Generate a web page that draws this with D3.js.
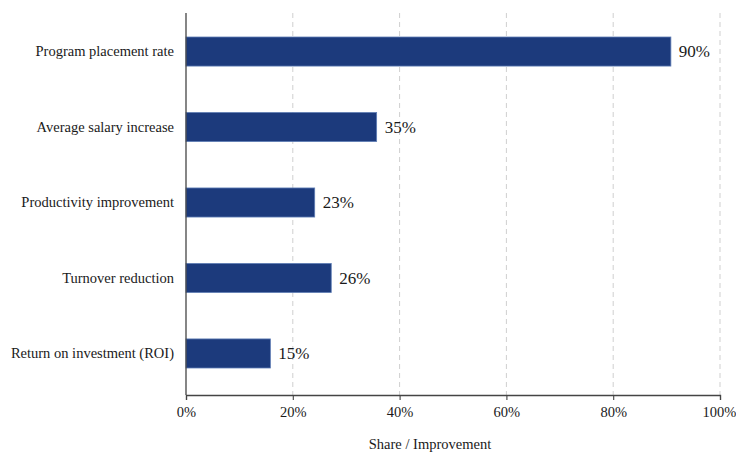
<!DOCTYPE html>
<html>
<head>
<meta charset="utf-8">
<script src="https://cdn.jsdelivr.net/npm/d3@7/dist/d3.min.js"></script>
<style>
  html, body { margin: 0; padding: 0; background: #fff; }
  svg { display: block; }
</style>
</head>
<body>
<svg id="chart" width="736" height="454"></svg>
<script>
const categories = ["Program placement rate", "Average salary increase", "Productivity improvement", "Turnover reduction", "Return on investment (ROI)"];
const values = [90.8, 35.7, 24.1, 27.2, 15.8];
const valueLabels = ["90%", "35%", "23%", "26%", "15%"];
const xTicks = [0, 20, 40, 60, 80, 100];
const xTickLabels = ["0%", "20%", "40%", "60%", "80%", "100%"];
const xTitle = "Share / Improvement";

(function () {
const svg = d3.select("#chart");
const font = "'Liberation Serif', 'Times New Roman', serif";
const mLeft = 186, mRight = 720, mTop = 13, mBottom = 395;

const x = d3.scaleLinear().domain([0, 100]).range([mLeft, mRight]);
const y = d3.scaleBand().domain(categories).range([mTop, 392]).paddingInner(0.615).paddingOuter(0.318);

// gridlines
svg.append("g").selectAll("line").data(xTicks.filter(d => d > 0)).join("line")
  .attr("x1", d => x(d)).attr("x2", d => x(d))
  .attr("y1", mTop).attr("y2", mBottom)
  .attr("stroke", "#cfcfcf").attr("stroke-width", 1).attr("stroke-dasharray", "5,4");

// bars
svg.append("g").selectAll("rect").data(categories).join("rect")
  .attr("x", x(0))
  .attr("y", d => y(d))
  .attr("width", (d, i) => x(values[i]) - x(0))
  .attr("height", y.bandwidth())
  .attr("fill", "#1c3a7c")
  .attr("stroke", "#5f7db5").attr("stroke-width", 0.8);

// value labels
svg.append("g").selectAll("text").data(categories).join("text")
  .attr("x", (d, i) => x(values[i]) + 8)
  .attr("y", d => y(d) + y.bandwidth() / 2)
  .attr("dy", "0.35em")
  .attr("font-family", font).attr("font-size", 17).attr("fill", "#1a1a1a")
  .text((d, i) => valueLabels[i]);

// x axis
const xAxis = d3.axisBottom(x).tickValues(xTicks).tickFormat((d, i) => xTickLabels[i]).tickSize(5).tickPadding(7);
const gx = svg.append("g").attr("transform", `translate(0,${mBottom})`).call(xAxis);
gx.select(".domain").attr("stroke", "#444").attr("stroke-width", 1.3);
gx.selectAll(".tick line").attr("stroke", "#444").attr("stroke-width", 1.1);
gx.selectAll(".tick text").attr("font-family", font).attr("font-size", 14.5).attr("fill", "#1a1a1a");
gx.selectAll(".tick text").filter(d => d === 100).attr("dx", -1);

// y axis
const yAxis = d3.axisLeft(y).tickSize(0).tickPadding(12);
const gy = svg.append("g").attr("transform", `translate(${mLeft},0)`).call(yAxis);
gy.select(".domain").remove();
gy.selectAll(".tick text").attr("font-family", font).attr("font-size", 14.5).attr("fill", "#1a1a1a");
svg.append("line").attr("x1", mLeft).attr("x2", mLeft).attr("y1", mTop).attr("y2", mBottom)
  .attr("stroke", "#444").attr("stroke-width", 1.3);

// x title
svg.append("text").attr("x", 430).attr("y", 449)
  .attr("text-anchor", "middle")
  .attr("font-family", font).attr("font-size", 14.5).attr("fill", "#1a1a1a")
  .text(xTitle);
})();
</script>
</body>
</html>
